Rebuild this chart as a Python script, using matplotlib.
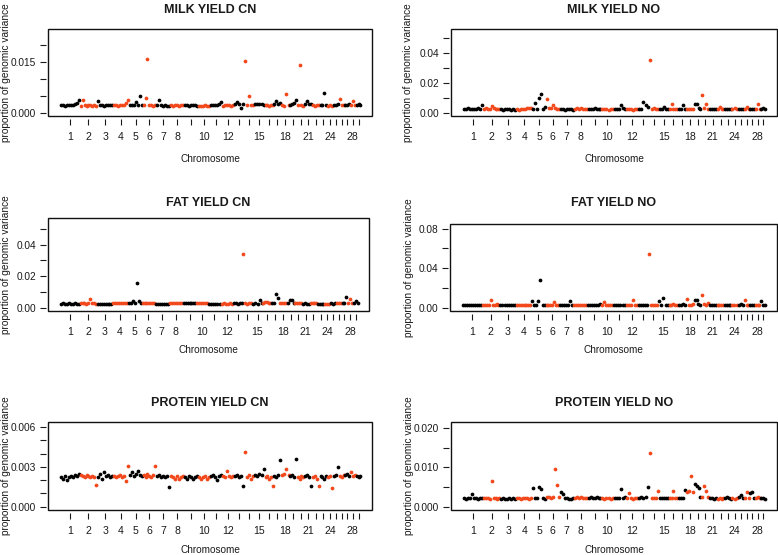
import matplotlib
matplotlib.use("Agg")
import matplotlib.pyplot as plt
from matplotlib.patches import Rectangle
import numpy as np

plt.rcParams['font.family'] = ['Liberation Sans', 'DejaVu Sans']

# ---------------- data ----------------
chromosomes = list(range(1, 30))
# relative chromosome lengths (as drawn on the x axis)
chrom_len = [166, 141, 134, 129, 117, 110, 117, 118, 111, 100, 105, 101, 83, 83, 86,
             73, 66, 68, 61, 61, 66, 63, 58, 53, 50, 46, 44, 47, 49]
chrom_labels = ['1', '2', '3', '4', '5', '6', '7', '8', '', '10', '', '12', '', '', '15',
                '', '', '18', '', '', '21', '', '', '24', '', '', '', '28', '']

# proportion of genomic variance per window, in units of 1e-4, one list per chromosome
milk_cn = [
    [22, 23, 21, 23, 22, 24, 23, 26, 30, 36],
    [21, 38, 22, 21, 23, 22, 20, 22, 21],
    [34, 23, 22, 21, 23, 22, 24, 22],
    [22, 23, 21, 24, 22, 23, 28, 36],
    [23, 24, 22, 32, 23, 50, 24],
    [22, 42, 158, 24, 22, 21, 23],
    [23, 37, 22, 21, 22, 20, 21],
    [22, 21, 23, 22, 21, 22, 23],
    [22, 23, 21, 22, 23, 22, 21],
    [21, 20, 21, 22, 20, 21],
    [22, 23, 24, 22, 26, 32],
    [21, 22, 23, 22, 21, 22],
    [25, 32, 26, 15, 27],
    [151, 24, 49, 23, 22],
    [26, 27, 25, 26, 24],
    [22, 23, 21, 22, 23],
    [27, 34, 26, 28],
    [22, 21, 54, 22],
    [24, 26, 30, 36],
    [22, 140, 23, 21],
    [27, 34, 26, 25],
    [22, 21, 23, 22],
    [23, 24, 57, 22],
    [21, 22, 20],
    [24, 23, 25],
    [39, 22, 23],
    [24, 23, 25],
    [22, 34, 23],
    [24, 25, 23],
]

milk_no = [
    [22, 25, 30, 23, 26, 28, 24, 31, 27, 49],
    [24, 33, 25, 23, 44, 33, 24, 22, 25],
    [22, 21, 22, 23, 22, 21, 22, 21],
    [22, 21, 22, 23, 25, 29, 33, 33],
    [22, 67, 23, 100, 129, 24, 38],
    [93, 30, 33, 49, 29, 26, 24],
    [22, 23, 21, 22, 23, 22, 21],
    [25, 30, 27, 33, 26, 24, 25],
    [25, 27, 24, 30, 26, 25, 24],
    [22, 23, 22, 21, 22, 23],
    [24, 26, 25, 49, 30, 26],
    [22, 23, 22, 21, 23, 22],
    [25, 28, 71, 49, 40],
    [356, 27, 33, 28, 26],
    [26, 25, 38, 27, 25],
    [25, 56, 28, 26, 25],
    [25, 27, 49, 26],
    [26, 28, 25, 27],
    [56, 60, 33, 27],
    [116, 30, 56, 28],
    [23, 22, 24, 22],
    [25, 40, 26, 24],
    [22, 23, 24, 22],
    [22, 33, 23],
    [24, 22, 25],
    [26, 40, 24],
    [23, 24, 22],
    [25, 62, 27],
    [24, 33, 22],
]

fat_cn = [
    [25, 26, 24, 25, 27, 24, 25, 26, 24, 25],
    [27, 26, 28, 25, 30, 57, 27, 26, 25],
    [24, 25, 23, 24, 25, 24, 23, 24],
    [27, 29, 31, 28, 27, 30, 29, 28],
    [27, 26, 42, 28, 156, 42, 27],
    [30, 31, 29, 32, 30, 28, 29],
    [23, 24, 22, 23, 24, 23, 22],
    [27, 28, 26, 27, 29, 28, 26],
    [27, 26, 28, 27, 26, 28, 27],
    [27, 28, 29, 27, 26, 28],
    [24, 25, 23, 24, 25, 23],
    [25, 26, 25, 24, 26, 25],
    [26, 27, 25, 26, 27],
    [338, 26, 25, 27, 28],
    [25, 26, 24, 47, 27],
    [30, 33, 35, 31, 29],
    [30, 28, 89, 61],
    [27, 28, 26, 27],
    [26, 47, 45, 27],
    [30, 28, 29, 31],
    [25, 26, 24, 25],
    [27, 28, 26, 27],
    [23, 24, 23, 22],
    [24, 25, 23],
    [26, 25, 27],
    [30, 28, 29],
    [27, 26, 68],
    [26, 57, 28],
    [27, 40, 26],
]

fat_no = [
    [24, 25, 23, 24, 26, 24, 25, 27, 24, 25],
    [25, 27, 26, 28, 74, 30, 26, 34, 25],
    [24, 23, 24, 25, 23, 24, 23, 24],
    [24, 25, 23, 26, 25, 24, 27, 26],
    [64, 25, 26, 64, 277, 30, 26],
    [25, 27, 26, 28, 55, 27, 25],
    [26, 28, 27, 30, 26, 64, 27],
    [27, 29, 30, 28, 27, 30, 28],
    [26, 27, 25, 30, 26, 28, 40],
    [28, 60, 30, 27, 29, 26],
    [30, 32, 29, 28, 31, 27],
    [26, 25, 27, 74, 26, 25],
    [27, 30, 26, 28, 25],
    [540, 29, 27, 30, 26],
    [64, 28, 101, 30, 27],
    [30, 33, 35, 31, 29],
    [28, 27, 40, 29],
    [84, 30, 28, 40],
    [74, 74, 35, 30],
    [132, 40, 30, 50],
    [28, 27, 26, 25],
    [27, 28, 26, 27],
    [25, 26, 24, 25],
    [26, 25, 27],
    [30, 40, 28],
    [74, 30, 29],
    [28, 30, 27],
    [29, 27, 28],
    [64, 30, 26],
]

protein_cn = [
    [22, 21, 23, 20, 22, 23, 22, 24, 23, 25],
    [24, 23, 22, 24, 23, 22, 23, 22, 16.4],
    [22, 25, 21, 26, 23, 24, 22, 23],
    [23, 22, 23, 24, 22, 23, 19.4, 30.8],
    [24, 26, 23, 25, 27, 24, 23],
    [24, 22, 25, 23, 22, 24, 30.8],
    [23, 24, 22, 23, 22, 23, 15.2],
    [23, 22, 21, 23, 20.7, 22, 23],
    [22, 21, 23, 22, 20.5, 22, 23],
    [22, 21, 22, 23, 21, 22],
    [23, 24, 22, 20, 23, 24],
    [23, 22, 27, 23, 22, 23],
    [23, 24, 22, 23, 15.7],
    [40.9, 22, 24, 21, 23],
    [24, 23, 25, 24, 28.3],
    [22, 23, 21, 22, 15.7],
    [23, 22, 24, 35.1],
    [24, 25, 28.3, 24],
    [23, 24, 22, 35.9],
    [22, 21, 23, 22],
    [23, 24, 22, 15.7],
    [22, 23, 21, 15.7],
    [23, 22, 21, 23],
    [22, 23, 13.9],
    [23, 24, 30],
    [23, 22, 24],
    [24, 25, 23],
    [26.5, 23, 24],
    [23, 22, 23],
]

protein_no = [
    [21, 20, 22, 21, 32, 21, 22, 20, 23, 22],
    [22, 21, 23, 20, 66, 21, 22, 20, 23],
    [20, 21, 20, 19, 21, 20, 21, 20],
    [21, 22, 20, 23, 21, 22, 20, 21],
    [47, 21, 22, 49, 44, 21, 20],
    [24, 25, 23, 26, 96, 54, 25],
    [38, 32, 21, 22, 20, 19, 21],
    [23, 25, 22, 24, 21, 23, 22],
    [22, 24, 21, 23, 25, 22, 21],
    [21, 20, 22, 21, 20, 22],
    [22, 23, 21, 44, 22, 24],
    [21, 36, 22, 20, 21, 22],
    [23, 25, 22, 24, 49],
    [136, 22, 21, 23, 41],
    [22, 21, 23, 22, 21],
    [22, 23, 41, 22, 21],
    [21, 22, 23, 42],
    [37, 40, 79, 38],
    [58, 53, 47, 25],
    [24, 53, 41, 26],
    [21, 22, 20, 21],
    [20, 21, 19, 22],
    [22, 26, 21, 20],
    [21, 20, 22],
    [24, 30, 23],
    [22, 38, 21],
    [34, 38, 22],
    [23, 25, 22],
    [21, 22, 20],
]

value_unit = 1e-4

titles = ['MILK YIELD CN', 'MILK YIELD NO', 'FAT YIELD CN', 'FAT YIELD NO',
          'PROTEIN YIELD CN', 'PROTEIN YIELD NO']
series = [milk_cn, milk_no, fat_cn, fat_no, protein_cn, protein_no]
y_max = [0.0236, 0.054, 0.0548, 0.0813, 0.00613, 0.0207]
y_ticks = [[0, 0.005, 0.010, 0.015, 0.020],
           [0, 0.01, 0.02, 0.03, 0.04, 0.05],
           [0, 0.01, 0.02, 0.03, 0.04, 0.05],
           [0, 0.02, 0.04, 0.06, 0.08],
           [0, 0.001, 0.002, 0.003, 0.004, 0.005, 0.006],
           [0, 0.005, 0.010, 0.015, 0.020]]
y_labels = [['0.000', '', '', '0.015', ''],
            ['0.00', '', '0.02', '', '0.04', ''],
            ['0.00', '', '0.02', '', '0.04', ''],
            ['0.00', '', '0.04', '', '0.08'],
            ['0.000', '', '', '0.003', '', '', '0.006'],
            ['0.000', '', '0.010', '', '0.020']]

# ---------------- layout (pixels: left, top, right, bottom) ----------------
W, H = 778, 555
boxes = [(48, 29, 372, 116), (451, 29, 777, 116),
         (48, 218, 369, 311), (450, 224, 777, 311),
         (48, 422, 372, 510), (451, 422, 777, 510)]
title_y = [10, 10, 203, 203, 403, 403]
xlabel_y = [159, 159, 350, 350, 550, 550]
ylabel_x = [6, 408, 6, 409, 6, 409]

ORANGE = '#F2481C'
TXT = '#1a1a1a'

fig = plt.figure(figsize=(W / 100, H / 100), dpi=100)

starts = np.concatenate([[0], np.cumsum(chrom_len)[:-1]])
centers = starts + np.array(chrom_len) / 2.0
total = float(np.sum(chrom_len))

for k in range(6):
    l, t, r, b = boxes[k]
    ax = fig.add_axes([l / W, 1 - b / H, (r - l) / W, (b - t) / H])
    for i, vals in enumerate(series[k]):
        n = len(vals)
        xs = starts[i] + (np.arange(n) + 0.5) * chrom_len[i] / n
        ys = np.array(vals, dtype=float) * value_unit
        ax.plot(xs, ys, 'o', ms=2.7, mew=0, color='black' if i % 2 == 0 else ORANGE,
                clip_on=False)
    ax.set_xlim(-0.04 * total, 1.035 * total)
    ax.set_ylim(-0.04 * y_max[k], 1.04 * y_max[k])
    ax.set_xticks(centers)
    ax.set_xticklabels(chrom_labels)
    ax.set_yticks(y_ticks[k])
    ax.set_yticklabels(y_labels[k], rotation=90, va='center')
    for s in ax.spines.values():
        s.set_visible(False)
    ax.spines['left'].set_position(('outward', 1.5))
    ax.spines['bottom'].set_position(('outward', 2.0))
    ax.add_patch(Rectangle((0, 0), 1, 1, transform=ax.transAxes, fill=False,
                           lw=1.0, ec='#111111', clip_on=False))
    ax.tick_params(axis='x', length=4.0, width=0.8, pad=5.5, labelsize=7.6,
                   colors=TXT)
    ax.tick_params(axis='y', length=4.0, width=0.8, pad=3.0, labelsize=7.3,
                   colors=TXT)
    cx = (l + r) / 2
    fig.text(cx / W, 1 - title_y[k] / H, titles[k], ha='center', va='center',
             fontsize=9.0, fontweight='bold', color=TXT)
    fig.text(cx / W, 1 - xlabel_y[k] / H, 'Chromosome', ha='center', va='center',
             fontsize=7.2, color=TXT)
    fig.text(ylabel_x[k] / W, 1 - ((t + b) / 2) / H, 'proportion of genomic variance',
             ha='center', va='center', rotation=90, fontsize=7.3, color=TXT)

fig.savefig('out.png', dpi=100)
